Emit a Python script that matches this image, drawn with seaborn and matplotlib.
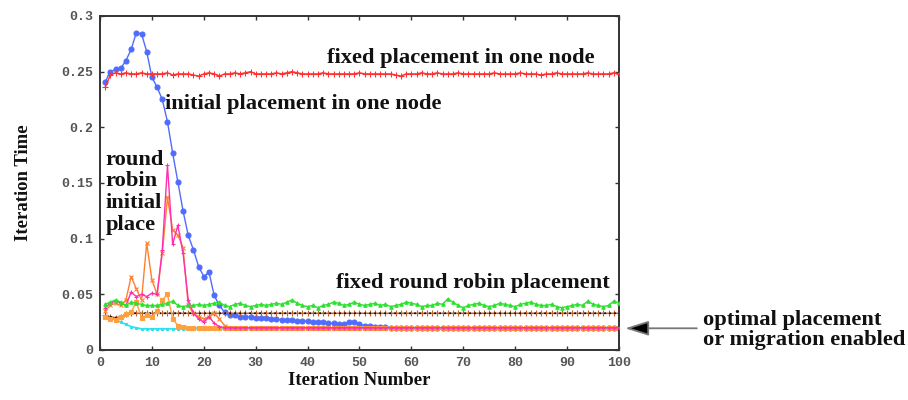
import numpy as np
import pandas as pd
import matplotlib
matplotlib.use("Agg")
import matplotlib.pyplot as plt
import seaborn as sns

# ---------------- data ----------------
iterations = list(range(1, 101))

fixed_one_node = [0.236, 0.247, 0.249, 0.248, 0.249, 0.248, 0.248, 0.249, 0.248, 0.248,
                  0.248, 0.248, 0.249, 0.247, 0.248, 0.248, 0.248, 0.247, 0.246, 0.248,
                  0.249, 0.248, 0.246, 0.248, 0.248, 0.249, 0.248, 0.249, 0.250, 0.248,
                  0.248, 0.248, 0.248, 0.249, 0.248, 0.249, 0.250, 0.249, 0.248, 0.248,
                  0.248, 0.248, 0.249, 0.248, 0.248, 0.248, 0.248, 0.248, 0.248, 0.249,
                  0.248, 0.248, 0.248, 0.248, 0.248, 0.248, 0.247, 0.246, 0.248, 0.248,
                  0.248, 0.249, 0.248, 0.248, 0.249, 0.248, 0.248, 0.248, 0.249, 0.248,
                  0.248, 0.248, 0.248, 0.248, 0.248, 0.249, 0.248, 0.248, 0.248, 0.248,
                  0.249, 0.248, 0.248, 0.248, 0.247, 0.248, 0.248, 0.249, 0.248, 0.248,
                  0.248, 0.248, 0.248, 0.249, 0.248, 0.248, 0.248, 0.248, 0.249, 0.248]

initial_one_node = [0.241, 0.250, 0.252, 0.253, 0.260, 0.270, 0.285, 0.284, 0.268, 0.245,
                    0.236, 0.225, 0.205, 0.177, 0.151, 0.125, 0.103, 0.090, 0.075, 0.066,
                    0.070, 0.049, 0.040, 0.034, 0.031, 0.031, 0.030, 0.030, 0.030, 0.029,
                    0.029, 0.029, 0.028, 0.028, 0.027, 0.027, 0.027, 0.026, 0.026, 0.026,
                    0.025, 0.025, 0.025, 0.024, 0.024, 0.023, 0.023, 0.025, 0.025, 0.023,
                    0.022, 0.022, 0.021, 0.021, 0.021, 0.020, 0.020, 0.020, 0.020, 0.020,
                    0.020, 0.020, 0.020, 0.020, 0.020, 0.020, 0.020, 0.020, 0.020, 0.020,
                    0.020, 0.020, 0.020, 0.020, 0.020, 0.020, 0.020, 0.020, 0.020, 0.020,
                    0.020, 0.020, 0.020, 0.020, 0.020, 0.020, 0.020, 0.020, 0.020, 0.020,
                    0.020, 0.020, 0.020, 0.020, 0.020, 0.020, 0.020, 0.020, 0.020, 0.020]

fixed_round_robin = [0.041, 0.043, 0.045, 0.043, 0.040, 0.043, 0.042, 0.041, 0.040, 0.040,
                     0.040, 0.041, 0.042, 0.044, 0.040, 0.039, 0.040, 0.040, 0.041, 0.040,
                     0.041, 0.042, 0.043, 0.040, 0.039, 0.041, 0.042, 0.040, 0.039, 0.040,
                     0.041, 0.040, 0.041, 0.042, 0.041, 0.043, 0.045, 0.042, 0.040, 0.039,
                     0.040, 0.038, 0.040, 0.041, 0.043, 0.042, 0.040, 0.041, 0.043, 0.041,
                     0.040, 0.041, 0.042, 0.040, 0.041, 0.039, 0.040, 0.041, 0.043, 0.042,
                     0.041, 0.039, 0.040, 0.040, 0.042, 0.041, 0.046, 0.043, 0.040, 0.038,
                     0.040, 0.041, 0.042, 0.040, 0.039, 0.040, 0.042, 0.041, 0.040, 0.039,
                     0.041, 0.042, 0.043, 0.041, 0.040, 0.040, 0.041, 0.039, 0.038, 0.039,
                     0.040, 0.041, 0.040, 0.044, 0.041, 0.040, 0.039, 0.040, 0.044, 0.042]

rr_initial_a = [0.038, 0.042, 0.044, 0.042, 0.040, 0.052, 0.048, 0.050, 0.048, 0.051,
                0.050, 0.090, 0.166, 0.095, 0.112, 0.087, 0.045, 0.033, 0.028, 0.025,
                0.030, 0.024, 0.021, 0.020, 0.020, 0.020, 0.020, 0.020, 0.020, 0.020,
                0.020, 0.020, 0.020, 0.020, 0.020, 0.020, 0.020, 0.020, 0.020, 0.020,
                0.020, 0.020, 0.020, 0.020, 0.020, 0.020, 0.020, 0.020, 0.020, 0.020,
                0.020, 0.020, 0.020, 0.020, 0.020, 0.020, 0.020, 0.020, 0.020, 0.020,
                0.020, 0.020, 0.020, 0.020, 0.020, 0.020, 0.020, 0.020, 0.020, 0.020,
                0.020, 0.020, 0.020, 0.020, 0.020, 0.020, 0.020, 0.020, 0.020, 0.020,
                0.020, 0.020, 0.020, 0.020, 0.020, 0.020, 0.020, 0.020, 0.020, 0.020,
                0.020, 0.020, 0.020, 0.020, 0.020, 0.020, 0.020, 0.020, 0.020, 0.020]

rr_initial_b = [0.035, 0.040, 0.042, 0.040, 0.045, 0.066, 0.055, 0.045, 0.096, 0.063,
                0.050, 0.087, 0.137, 0.108, 0.103, 0.092, 0.040, 0.033, 0.030, 0.028,
                0.030, 0.033, 0.028, 0.022, 0.020, 0.020, 0.020, 0.020, 0.020, 0.020,
                0.020, 0.020, 0.020, 0.020, 0.020, 0.020, 0.020, 0.020, 0.020, 0.020,
                0.020, 0.020, 0.020, 0.020, 0.020, 0.020, 0.020, 0.020, 0.020, 0.020,
                0.020, 0.020, 0.020, 0.020, 0.020, 0.020, 0.020, 0.020, 0.020, 0.020,
                0.020, 0.020, 0.020, 0.020, 0.020, 0.020, 0.020, 0.020, 0.020, 0.020,
                0.020, 0.020, 0.020, 0.020, 0.020, 0.020, 0.020, 0.020, 0.020, 0.020,
                0.020, 0.020, 0.020, 0.020, 0.020, 0.020, 0.020, 0.020, 0.020, 0.020,
                0.020, 0.020, 0.020, 0.020, 0.020, 0.020, 0.020, 0.020, 0.020, 0.020]

rr_initial_c = [0.030, 0.028, 0.027, 0.030, 0.032, 0.034, 0.043, 0.029, 0.031, 0.030,
                0.035, 0.045, 0.050, 0.028, 0.022, 0.021, 0.020, 0.020, 0.020, 0.020,
                0.020, 0.020, 0.020, 0.020, 0.020, 0.020, 0.020, 0.020, 0.020, 0.020,
                0.020, 0.020, 0.020, 0.020, 0.020, 0.020, 0.020, 0.020, 0.020, 0.020,
                0.020, 0.020, 0.020, 0.020, 0.020, 0.020, 0.020, 0.020, 0.020, 0.020,
                0.020, 0.020, 0.020, 0.020, 0.020, 0.020, 0.020, 0.020, 0.020, 0.020,
                0.020, 0.020, 0.020, 0.020, 0.020, 0.020, 0.020, 0.020, 0.020, 0.020,
                0.020, 0.020, 0.020, 0.020, 0.020, 0.020, 0.020, 0.020, 0.020, 0.020,
                0.020, 0.020, 0.020, 0.020, 0.020, 0.020, 0.020, 0.020, 0.020, 0.020,
                0.020, 0.020, 0.020, 0.020, 0.020, 0.020, 0.020, 0.020, 0.020, 0.020]

optimal_cyan = [0.030, 0.029, 0.027, 0.025, 0.023, 0.021, 0.020, 0.019, 0.019, 0.019,
                0.019, 0.019, 0.019, 0.019, 0.019, 0.019, 0.019, 0.019, 0.019, 0.019,
                0.019, 0.019, 0.019, 0.019, 0.019, 0.019, 0.019, 0.019, 0.019, 0.019,
                0.019, 0.019, 0.019, 0.019, 0.019, 0.019, 0.019, 0.019, 0.019, 0.019,
                0.019, 0.019, 0.019, 0.019, 0.019, 0.019, 0.019, 0.019, 0.019, 0.019,
                0.019, 0.019, 0.019, 0.019, 0.019, 0.019, 0.019, 0.019, 0.019, 0.019,
                0.019, 0.019, 0.019, 0.019, 0.019, 0.019, 0.019, 0.019, 0.019, 0.019,
                0.019, 0.019, 0.019, 0.019, 0.019, 0.019, 0.019, 0.019, 0.019, 0.019,
                0.019, 0.019, 0.019, 0.019, 0.019, 0.019, 0.019, 0.019, 0.019, 0.019,
                0.019, 0.019, 0.019, 0.019, 0.019, 0.019, 0.019, 0.019, 0.019, 0.019]

static_black = [0.031, 0.030, 0.029, 0.030, 0.032, 0.033, 0.033, 0.033, 0.033, 0.033] + [0.033] * 90

xticks = [0, 10, 20, 30, 40, 50, 60, 70, 80, 90, 100]
xtick_labels = ["0", "10", "20", "30", "40", "50", "60", "70", "80", "90", "100"]
yticks = [0, 0.05, 0.1, 0.15, 0.2, 0.25, 0.3]
ytick_labels = ["0", "0.05", "0.1", "0.15", "0.2", "0.25", "0.3"]

# ---------------- plot ----------------
sns.set_theme(style="white")
plt.rcParams['font.family'] = ['Liberation Serif', 'DejaVu Serif']

fig = plt.figure(figsize=(9.08, 4.0), dpi=100)
ax = fig.add_axes([100 / 908, 50 / 400, 519 / 908, 334 / 400])

# (values, colour, marker, markersize, linewidth, zorder)
series = [
    (initial_one_node, "#4f6cff", "o", 3.6, 1.0, 2.0),
    (optimal_cyan, "#30e0f0", "s", 2, 1.2, 2.2),
    (static_black, "#c0602a", "+", 4, 1.0, 2.3),
    (rr_initial_c, "#ffa040", "s", 2.2, 1.0, 2.4),
    (rr_initial_b, "#ff8030", "x", 3, 1.0, 2.5),
    (rr_initial_a, "#ff30b0", "+", 3, 1.0, 2.6),
    (fixed_round_robin, "#30e030", "^", 2.5, 1.0, 2.7),
    (fixed_one_node, "#ff3030", "+", 4, 1.0, 2.8),
]
for vals, col, mk, ms, lw, z in series:
    df = pd.DataFrame({"it": iterations, "t": vals})
    sns.lineplot(data=df, x="it", y="t", ax=ax, color=col, marker=mk,
                 markersize=ms, linewidth=lw, zorder=z,
                 markeredgecolor=col, markeredgewidth=0.8)

# dotted black overlay on static line
sns.lineplot(x=iterations, y=static_black, ax=ax, color="black",
             linestyle=(0, (1, 2)), linewidth=1.2, zorder=2.35)

ax.set_xlim(0, 100)
ax.set_ylim(0, 0.3)
ax.set_xticks(xticks)
ax.set_xticklabels(xtick_labels)
ax.set_yticks(yticks)
ax.set_yticklabels(ytick_labels)

for lab in ax.get_xticklabels() + ax.get_yticklabels():
    lab.set_family(['Liberation Mono', 'DejaVu Sans Mono'])
    lab.set_fontweight('bold')
    lab.set_fontsize(9.5)
    lab.set_color('#555555')

ax.tick_params(direction='in', length=3, width=1, color='#333333',
               top=True, right=True, bottom=True, left=True, pad=5)
for sp in ax.spines.values():
    sp.set_color('#333333')
    sp.set_linewidth(1.4)

ax.set_xlabel("Iteration Number", fontsize=13.5, fontweight='bold', labelpad=2, color='#111111')
ax.set_ylabel("Iteration Time", fontsize=13.5, fontweight='bold', labelpad=21, color='#111111')

tk = dict(fontsize=16.2, fontweight='bold', color='#111111')
ax.text(43.7, 0.262, "fixed placement in one node", va='center', ha='left', **tk)
ax.text(12.5, 0.221, "initial placement in one node", va='center', ha='left', **tk)
ax.text(1.1, 0.180, "round\nrobin\ninitial\nplace", va='top', ha='left', linespacing=1.12, **tk)
ax.text(45.5, 0.060, "fixed round robin placement", va='center', ha='left', **tk)

ax.annotate("", xy=(101.2, 0.0195), xytext=(115.0, 0.0195), xycoords='data',
            annotation_clip=False,
            arrowprops=dict(arrowstyle='-|>,head_length=1.2,head_width=0.38',
                            lw=1.3, ec='#777777', fc='black', shrinkA=0, shrinkB=0))
fig.text(703 / 908, (400 - 330) / 400, "optimal placement\nor migration enabled",
         ha='left', va='center', linespacing=0.95, **tk)

fig.savefig("out.png", dpi=100)
